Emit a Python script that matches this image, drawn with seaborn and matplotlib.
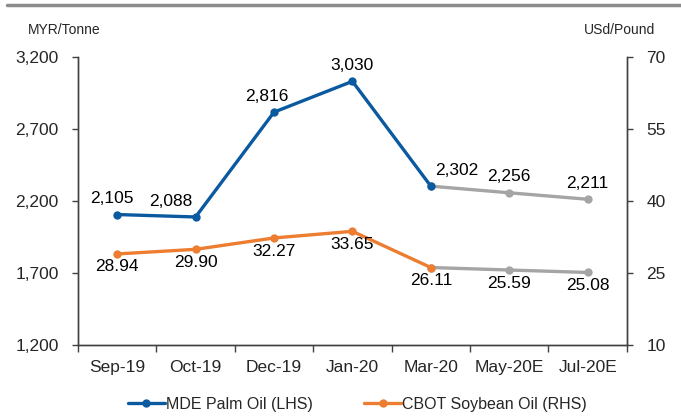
import numpy as np
import matplotlib
matplotlib.use("Agg")
import matplotlib.pyplot as plt
import seaborn as sns
import pandas as pd
from matplotlib.lines import Line2D

# data
months = ['Sep-19', 'Oct-19', 'Dec-19', 'Jan-20', 'Mar-20', 'May-20E', 'Jul-20E']
palm_oil = [2105, 2088, 2816, 3030, 2302, 2256, 2211]
soybean_oil = [28.94, 29.90, 32.27, 33.65, 26.11, 25.59, 25.08]
n_actual = 5  # Sep-19 .. Mar-20 are actuals, the rest are estimates

blue = '#0B5AA0'
orange = '#ED7D31'
grey = '#A5A5A5'

sns.set_theme(style='white')
plt.rcParams['font.family'] = ['Liberation Sans', 'DejaVu Sans']

df = pd.DataFrame({'pos': np.arange(len(months)), 'month': months,
                   'palm': palm_oil, 'soy': soybean_oil})
act = df.iloc[:n_actual]
est = df.iloc[n_actual - 1:]

fig = plt.figure(figsize=(6.81, 4.18), dpi=100)
ax = fig.add_axes([0.1145, 0.175, 0.806, 0.689])
ax2 = ax.twinx()

# estimates first (grey), actuals on top
sns.lineplot(data=est, x='pos', y='palm', ax=ax, color=grey, lw=2.4,
             marker='o', markersize=6, markeredgewidth=0)
sns.lineplot(data=act, x='pos', y='palm', ax=ax, color=blue, lw=2.4,
             marker='o', markersize=6, markeredgewidth=0)
sns.lineplot(data=est, x='pos', y='soy', ax=ax2, color=grey, lw=2.4,
             marker='o', markersize=6, markeredgewidth=0)
sns.lineplot(data=act, x='pos', y='soy', ax=ax2, color=orange, lw=2.4,
             marker='o', markersize=6, markeredgewidth=0)

fs = 12.5
palm_dx = [-4, -18, -5, 0, 19, 0, 0]
for i, v in enumerate(palm_oil):
    ax.annotate(f'{v:,}', (i, v), xytext=(palm_dx[i], 6), textcoords='offset points',
                ha='center', va='bottom', fontsize=fs, color='black')
for i, v in enumerate(soybean_oil):
    ax2.annotate(f'{v:.2f}', (i, v), xytext=(0, -4), textcoords='offset points',
                 ha='center', va='top', fontsize=fs, color='black')

# axes
ax.set_xlim(-0.5, len(months) - 0.5)
ax.set_ylim(1200, 3200)
ax.set_yticks(np.arange(1200, 3201, 500))
ax.set_yticklabels([f'{t:,}' for t in range(1200, 3201, 500)], fontsize=fs)
ax2.set_ylim(10, 70)
ax2.set_yticks(np.arange(10, 71, 15))
ax2.set_yticklabels([str(t) for t in range(10, 71, 15)], fontsize=fs)

ax.set_xticks(np.arange(-0.5, len(months), 1.0))
ax.set_xticklabels([])
ax.set_xticks(np.arange(len(months)), minor=True)
ax.set_xticklabels(months, minor=True, fontsize=fs)
ax.tick_params(axis='x', which='major', length=5, width=1, color='#404040', direction='out', bottom=True)
ax.tick_params(axis='x', which='minor', length=0, pad=11)
ax.tick_params(axis='y', length=4, width=1, color='#404040', direction='out', left=True, pad=10)
ax2.tick_params(axis='y', length=4, width=1, color='#404040', direction='out', right=True, pad=10)

ax.set_xlabel('')
ax.set_ylabel('')
ax2.set_ylabel('')
for a in (ax, ax2):
    a.grid(False)
    a.spines['top'].set_visible(False)
    for s in ('left', 'right', 'bottom'):
        a.spines[s].set_color('#404040')
        a.spines[s].set_linewidth(1)

fig.text(0.094, 0.928, 'MYR/Tonne', ha='center', va='center', fontsize=10)
fig.text(0.91, 0.928, 'USd/Pound', ha='center', va='center', fontsize=10)

# grey rule across the top
fig.add_artist(Line2D([0.01, 1.0], [0.988, 0.988], transform=fig.transFigure,
                      color='#8C8C8C', lw=2.5))

handles = [Line2D([], [], color=blue, lw=2.4, marker='o', markersize=6, markeredgewidth=0),
           Line2D([], [], color=orange, lw=2.4, marker='o', markersize=6, markeredgewidth=0)]
fig.legend(handles, ['MDE Palm Oil (LHS)', 'CBOT Soybean Oil (RHS)'], loc='center',
           bbox_to_anchor=(0.525, 0.033), ncol=2, frameon=False, fontsize=11.5,
           handlelength=2.3, handletextpad=0.1, columnspacing=3.2)

fig.savefig('out.png', dpi=100)
plt.close(fig)
